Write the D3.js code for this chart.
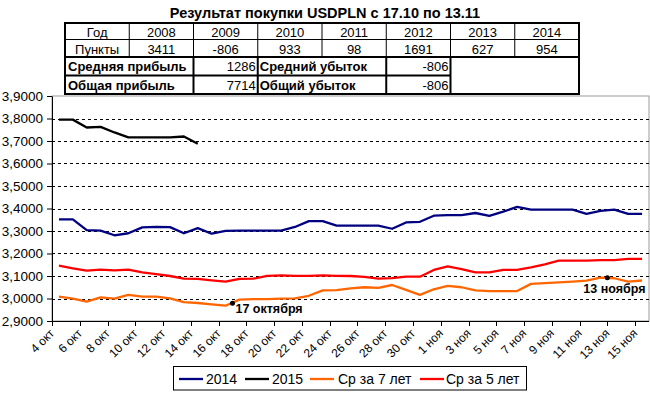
<!DOCTYPE html>
<html><head><meta charset="utf-8">
<script src="https://cdn.jsdelivr.net/npm/d3@7/dist/d3.min.js"></script>
<style>
body{margin:0;background:#fff}
svg{display:block}
text{font-family:Arial,"Liberation Sans",sans-serif;fill:#000}
</style>
</head><body>
<svg id="chart" width="650" height="393"></svg>
<script>
// ---------- data ----------
const title = "Результат покупки USDPLN с 17.10 по 13.11";
const years = ["2008","2009","2010","2011","2012","2013","2014"];
const points = [3411,-806,933,98,1691,627,954];
const summaryLabels = ["Средняя прибыль","Общая прибыль","Средний убыток","Общий убыток"];
const summaryValues = [1286,7714,-806,-806];

const dates = ["4 окт","5 окт","6 окт","7 окт","8 окт","9 окт","10 окт","11 окт","12 окт","13 окт",
  "14 окт","15 окт","16 окт","17 окт","18 окт","19 окт","20 окт","21 окт","22 окт","23 окт",
  "24 окт","25 окт","26 окт","27 окт","28 окт","29 окт","30 окт","31 окт",
  "1 ноя","2 ноя","3 ноя","4 ноя","5 ноя","6 ноя","7 ноя","8 ноя","9 ноя","10 ноя",
  "11 ноя","12 ноя","13 ноя","14 ноя","15 ноя"];
const tickLabels = ["4 окт","6 окт","8 окт","10 окт","12 окт","14 окт","16 окт","18 окт","20 окт",
  "22 окт","24 окт","26 окт","28 окт","30 окт","1 ноя","3 ноя","5 ноя","7 ноя","9 ноя",
  "11 ноя","13 ноя","15 ноя"];
const yTicks = [2.9,3.0,3.1,3.2,3.3,3.4,3.5,3.6,3.7,3.8,3.9];

const s2014 = [3.352,3.352,3.304,3.302,3.281,3.290,3.316,3.318,3.317,3.290,3.313,3.288,3.301,3.302,
  3.302,3.302,3.302,3.318,3.344,3.344,3.324,3.324,3.324,3.324,3.310,3.338,3.341,3.368,
  3.371,3.371,3.380,3.367,3.386,3.407,3.395,3.395,3.395,3.395,3.376,3.389,3.395,3.376,3.376];
const s2015 = [3.795,3.795,3.760,3.763,3.738,3.716,3.716,3.716,3.716,3.720,3.688];
const avg7 = [3.008,2.999,2.986,3.005,2.999,3.016,3.008,3.008,3.001,2.984,2.980,2.974,2.968,2.995,
  2.997,2.997,2.999,3.001,3.012,3.036,3.037,3.045,3.050,3.047,3.060,3.038,3.016,3.041,
  3.056,3.050,3.036,3.033,3.033,3.033,3.065,3.068,3.072,3.075,3.079,3.093,3.090,3.075,3.080];
const avg5 = [3.146,3.134,3.124,3.128,3.125,3.128,3.116,3.108,3.100,3.088,3.087,3.081,3.075,3.087,
  3.088,3.101,3.103,3.101,3.101,3.103,3.101,3.100,3.096,3.088,3.091,3.097,3.097,3.127,
  3.143,3.131,3.116,3.116,3.127,3.127,3.138,3.152,3.168,3.168,3.168,3.171,3.171,3.176,3.176];
const seriesNames = ["2014","2015","Ср за 7 лет","Ср за 5 лет"];
const seriesColors = ["#000080","#000000","#FF6600","#FF0000"];
const annoDates = ["17 окт","13 ноя"];
const annoValues = [2.979,3.092];
const annoTexts = ["17 октября","13 ноября"];

// ---------- layout ----------
const svg = d3.select("#chart");
const P = {l:52, r:649, t:96, b:321};
const x = d3.scaleBand().domain(dates).range([P.l, P.r]).padding(0);
const bw = x.bandwidth();
const y = d3.scaleLinear().domain([2.9, 3.9]).range([P.b, P.t]);

// title
svg.append("text").attr("x",325).attr("y",18).attr("text-anchor","middle")
  .style("font-size","14.5px").style("font-weight","bold").text(title);

// ---------- table ----------
const tb = svg.append("g");
const colX = d3.range(9).map(i => 65 + i*64.25);
const rowY = [23, 39.5, 57, 75.5, 94];
tb.append("rect").attr("x",colX[0]).attr("y",rowY[0]).attr("width",colX[8]-colX[0])
  .attr("height",rowY[4]-rowY[0]).attr("fill","#fff");
function ln(x1,y1,x2,y2,w){tb.append("line").attr("x1",x1).attr("y1",y1).attr("x2",x2).attr("y2",y2)
  .attr("stroke","#000").attr("stroke-width",w);}
ln(colX[0],rowY[1],colX[8],rowY[1],1);
for(let i=1;i<8;i++) ln(colX[i],rowY[0],colX[i],rowY[2],1);
ln(colX[0],rowY[2],colX[8],rowY[2],2);
ln(colX[0],rowY[3],colX[6],rowY[3],2);
[2,3,5,6].forEach(i=>ln(colX[i],rowY[2],colX[i],rowY[4],2));
tb.append("rect").attr("x",colX[0]).attr("y",rowY[0]).attr("width",colX[8]-colX[0])
  .attr("height",rowY[4]-rowY[0]).attr("fill","none").attr("stroke","#000").attr("stroke-width",2);
const hdr = ["Год"].concat(years);
const pts = ["Пункты"].concat(points.map(String));
hdr.forEach((t,i)=>tb.append("text").attr("x",(colX[i]+colX[i+1])/2).attr("y",36.5)
  .attr("text-anchor","middle").style("font-size","13px").text(t));
pts.forEach((t,i)=>tb.append("text").attr("x",(colX[i]+colX[i+1])/2).attr("y",53.5)
  .attr("text-anchor","middle").style("font-size","13px").text(t));
[[0,rowY[2]],[1,rowY[3]]].forEach(([k,yy])=>{
  tb.append("text").attr("x",colX[0]+3).attr("y",yy+14).style("font-size","13px").style("font-weight","bold").text(summaryLabels[k]);
  tb.append("text").attr("x",colX[3]-2).attr("y",yy+14).attr("text-anchor","end").style("font-size","13px").text(summaryValues[k]);
  tb.append("text").attr("x",colX[3]+2).attr("y",yy+14).style("font-size","13px").style("font-weight","bold").text(summaryLabels[k+2]);
  tb.append("text").attr("x",colX[6]-2).attr("y",yy+14).attr("text-anchor","end").style("font-size","13px").text(summaryValues[k+2]);
});

// ---------- plot ----------
svg.append("rect").attr("x",P.l).attr("y",P.t).attr("width",P.r-P.l).attr("height",P.b-P.t)
  .attr("fill","none").attr("stroke","#9a9a9a").attr("stroke-width",1);
svg.append("g").selectAll("line").data(yTicks.filter(v=>v>2.95 && v<3.85)).join("line")
  .attr("x1",P.l).attr("x2",P.r).attr("y1",d=>Math.round(y(d))+0.5).attr("y2",d=>Math.round(y(d))+0.5)
  .attr("stroke","#000").attr("stroke-dasharray","3,3").attr("stroke-width",1);

const ya = svg.append("g").attr("transform",`translate(${P.l},0)`)
  .call(d3.axisLeft(y).tickValues(yTicks).tickSize(5).tickSizeOuter(0).tickPadding(4)
    .tickFormat(d=>d.toFixed(4).replace(".",",")));
ya.select(".domain").attr("stroke","#000");
ya.selectAll("text").style("font-size","13.5px").style("font-family","Arial,'Liberation Sans',sans-serif");

const xa = svg.append("g");
xa.append("line").attr("x1",P.l).attr("x2",P.r).attr("y1",P.b+0.5).attr("y2",P.b+0.5).attr("stroke","#000");
xa.selectAll("line.tk").data(tickLabels).join("line").attr("class","tk")
  .attr("x1",d=>Math.round(x(d))+0.5).attr("x2",d=>Math.round(x(d))+0.5)
  .attr("y1",P.b).attr("y2",P.b+5).attr("stroke","#000");
xa.selectAll("text").data(tickLabels).join("text")
  .attr("transform",d=>`translate(${x(d)+3},${P.b+13}) rotate(-45)`)
  .attr("text-anchor","end").style("font-size","12px").text(d=>d);

const allSeries = [s2014, s2015, avg7, avg5];
const lineGen = d3.line().x((d,i)=>x(dates[i])+bw/2).y(d=>y(d));
svg.append("g").selectAll("path").data([0,1,2,3]).join("path")
  .attr("d",k=>lineGen(allSeries[k])).attr("fill","none")
  .attr("stroke",k=>seriesColors[k]).attr("stroke-width",2.3).attr("stroke-linejoin","round");

annoDates.forEach((dd,i)=>{
  svg.append("circle").attr("cx",x(dd)).attr("cy",y(annoValues[i])).attr("r",2.5).attr("fill","#000");
});
svg.append("text").attr("x",x(annoDates[0])+3).attr("y",y(annoValues[0])+10)
  .style("font-size","12.5px").style("font-weight","bold").text(annoTexts[0]);
svg.append("text").attr("x",x(annoDates[1])-24).attr("y",y(annoValues[1])+15)
  .style("font-size","12.5px").style("font-weight","bold").text(annoTexts[1]);

const lg = svg.append("g");
lg.append("rect").attr("x",173.5).attr("y",366.5).attr("width",353).attr("height",23.5)
  .attr("fill","#fff").attr("stroke","#000");
const lgLineX = [179,245,310,420];
const lgTextX = [206,272,338,446];
seriesNames.forEach((n,i)=>{
  lg.append("line").attr("x1",lgLineX[i]).attr("x2",lgLineX[i]+24).attr("y1",379).attr("y2",379)
    .attr("stroke",seriesColors[i]).attr("stroke-width",2.3);
  lg.append("text").attr("x",lgTextX[i]).attr("y",383.5).style("font-size","14px").text(n);
});
</script>
</body></html>
